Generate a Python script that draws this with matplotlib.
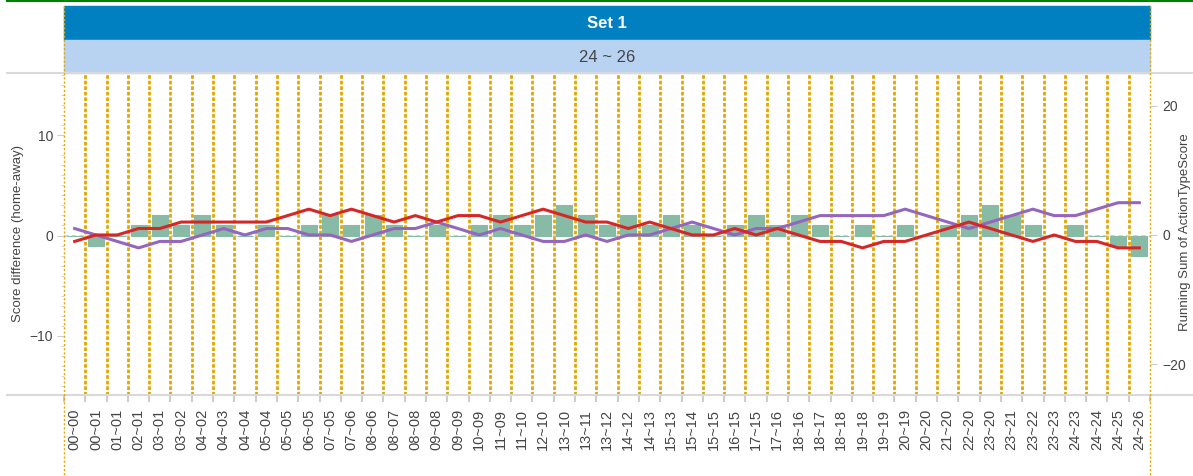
import numpy as np
import matplotlib
matplotlib.use("Agg")
import matplotlib.pyplot as plt
from matplotlib.lines import Line2D
from matplotlib.patches import Rectangle
from matplotlib.ticker import MultipleLocator, FixedLocator

plt.rcParams['font.family'] = ['Liberation Sans', 'DejaVu Sans']

# score label for each rally ("home~away")
labels = ["00~00", "00~01", "01~01", "02~01", "03~01", "03~02", "04~02", "04~03", "04~04",
          "05~04", "05~05", "06~05", "07~05", "07~06", "08~06", "08~07", "08~08", "09~08",
          "09~09", "10~09", "11~09", "11~10", "12~10", "13~10", "13~11", "13~12", "14~12",
          "14~13", "15~13", "15~14", "15~15", "16~15", "17~15", "17~16", "18~16", "18~17",
          "18~18", "19~18", "19~19", "20~19", "20~20", "21~20", "22~20", "23~20", "23~21",
          "23~22", "23~23", "24~23", "24~24", "24~25", "24~26"]

# score difference home-away (bars, left axis)
score_diff = [0, -1, 0, 1, 2, 1, 2, 1, 0, 1, 0, 1, 2, 1, 2, 1, 0, 1, 0, 1, 2, 1, 2, 3, 2,
              1, 2, 1, 2, 1, 0, 1, 2, 1, 2, 1, 0, 1, 0, 1, 0, 1, 2, 3, 2, 1, 0, 1, 0, -1, -2]

# running sums (lines, right axis)
home_running = [-1, 0, 0, 1, 1, 2, 2, 2, 2, 2, 3, 4, 3, 4, 3, 2, 3, 2, 3, 3, 2, 3, 4, 3, 2,
                2, 1, 2, 1, 0, 0, 1, 0, 1, 0, -1, -1, -2, -1, -1, 0, 1, 2, 1, 0, -1, 0, -1,
                -1, -2, -2]
away_running = [1, 0, -1, -2, -1, -1, 0, 1, 0, 1, 1, 0, 0, -1, 0, 1, 1, 2, 1, 0, 1, 0, -1,
                -1, 0, -1, 0, 0, 1, 2, 1, 0, 1, 1, 2, 3, 3, 3, 3, 4, 3, 2, 1, 2, 3, 4, 3, 3,
                4, 5, 5]

W, H = 1193, 476
fig = plt.figure(figsize=(W / 100, H / 100), dpi=100)

def fx(px):
    return px / W

def fy(py):
    return 1 - py / H

left, right, top, bottom = 64, 1150, 73, 395
ax = fig.add_axes([fx(left), fy(bottom), fx(right - left), (bottom - top) / H])
ax2 = ax.twinx()

x = np.arange(len(labels))
ax.axhline(0, color='#c8c8c8', ls=(0, (3, 2)), lw=1.1, zorder=1)
ax.bar(x, score_diff, width=0.75, color='#88bba6', edgecolor='#88bba6', linewidth=0.8, zorder=2)
for k in range(1, len(labels)):
    ax.axvline(k - 0.5, color='#e2a700', ls=(0, (1.3, 0.7)), lw=2.0, zorder=3)

ax2.plot(x, away_running, color='#9467bd', lw=2.2, zorder=4)
ax2.plot(x, home_running, color='#d62728', lw=2.2, zorder=5)

ax.set_xlim(-0.5, len(labels) - 0.5)
ax.set_ylim(-15.9, 16.2)
ax2.set_ylim(-24.8, 25.1)

for a in (ax, ax2):
    for s in a.spines.values():
        s.set_visible(False)

ax.set_xticks(x)
ax.set_xticklabels(labels, rotation=90, fontsize=10.5, color='#444444')
ax.xaxis.set_minor_locator(FixedLocator(np.arange(len(labels) + 1) - 0.5))
ax.tick_params(axis='x', which='major', length=0, pad=10)
ax.tick_params(axis='x', which='minor', length=5, color='#cccccc', width=1.5)

ax.set_yticks([-10, 0, 10])
ax.yaxis.set_minor_locator(MultipleLocator(1))
ax.tick_params(axis='y', which='major', length=5, color='#cccccc', labelsize=10,
               labelcolor='#444444', pad=3)
ax.tick_params(axis='y', which='minor', length=2, color='#cccccc')

ax2.set_yticks([-20, 0, 20])
ax2.tick_params(axis='y', which='major', length=5, color='#cccccc', labelsize=10,
                labelcolor='#444444', pad=4)

fig.text(fx(18), fy(234), 'Score difference (home-away)', rotation=90, ha='center',
         va='center', fontsize=9.5, color='#444444')
fig.text(fx(1185), fy(232), 'Running Sum of ActionTypeScore', rotation=90, ha='center',
         va='center', fontsize=9.5, color='#444444')

# header bands
fig.patches.append(Rectangle((fx(left), fy(40)), fx(right - left), 34 / H,
                             transform=fig.transFigure, color='#0080c0', zorder=0))
fig.patches.append(Rectangle((fx(left), fy(73)), fx(right - left), 33 / H,
                             transform=fig.transFigure, color='#b8d3f2', zorder=0))
fig.text(fx((left + right) / 2), fy(23), 'Set 1', ha='center', va='center',
         fontsize=12, fontweight='bold', color='white')
fig.text(fx((left + right) / 2), fy(57), '24 ~ 26', ha='center', va='center',
         fontsize=12, color='#444444')

# frame lines
fig.add_artist(Line2D([fx(7), 1], [fy(1), fy(1)], color='#008000', lw=1.5))
fig.add_artist(Line2D([fx(7), 1], [fy(top), fy(top)], color='#d9d9d9', lw=1.5))
fig.add_artist(Line2D([fx(7), 1], [fy(bottom), fy(bottom)], color='#d9d9d9', lw=1.5))
for px in (left, right):
    fig.add_artist(Line2D([fx(px), fx(px)], [fy(6), 0], color='#e2a700',
                          ls=(0, (1.5, 1.5)), lw=1.0))

fig.savefig('out.png', dpi=100)
